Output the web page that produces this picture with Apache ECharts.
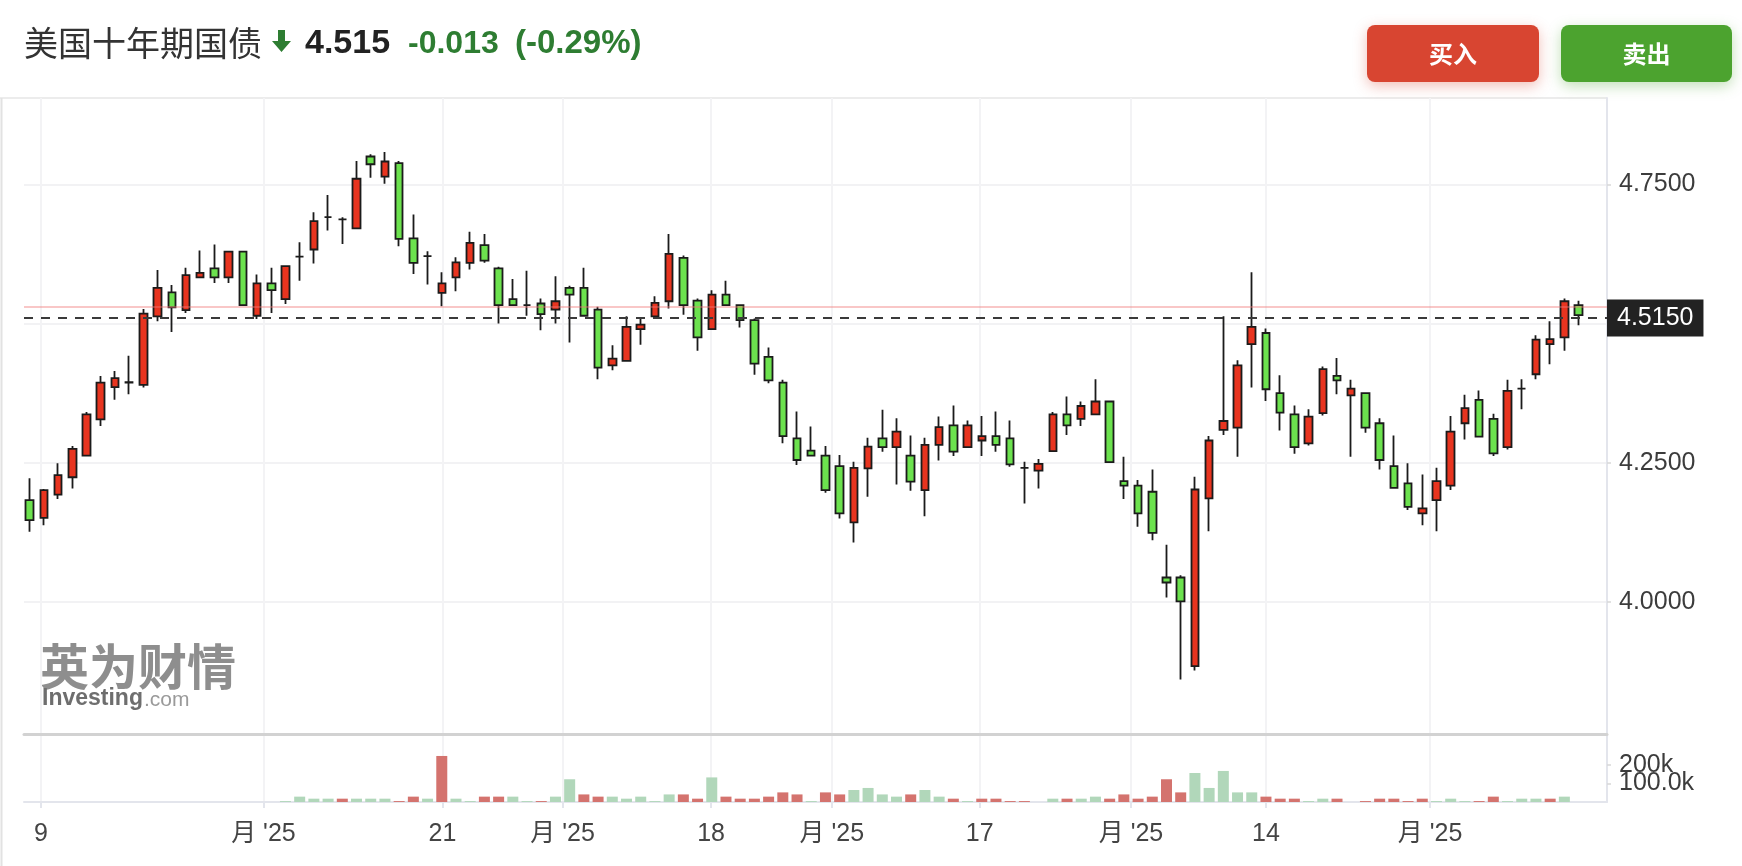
<!DOCTYPE html>
<html>
<head>
<meta charset="utf-8">
<script src="https://cdn.jsdelivr.net/npm/echarts@6/dist/echarts.min.js"></script>
<style>
html,body{margin:0;padding:0;background:#fff;}
#chart{width:1742px;height:866px;}
</style>
</head>
<body>
<div id="chart"></div>
<script>
// ---- DATA ----
const titleText = '美国十年期国债';
const lastPrice = 4.515;
const prevClose = 4.528;
const changeText = '-0.013';
const changePctText = '(-0.29%)';
const buyText = '买入';
const sellText = '卖出';

// rows: [open, close, low, high]
const ohlc = [
 [4.183,4.147,4.126,4.222],[4.151,4.201,4.138,4.203],[4.193,4.228,4.185,4.249],[4.224,4.275,4.204,4.280],
 [4.263,4.337,4.262,4.341],[4.328,4.394,4.316,4.406],[4.386,4.402,4.363,4.415],[4.395,4.394,4.373,4.442],
 [4.390,4.518,4.385,4.526],[4.513,4.564,4.504,4.596],[4.556,4.529,4.485,4.569],[4.524,4.587,4.519,4.600],
 [4.583,4.591,4.583,4.631],[4.599,4.583,4.573,4.642],[4.583,4.629,4.573,4.630],[4.629,4.533,4.532,4.630],
 [4.514,4.572,4.508,4.588],[4.572,4.560,4.519,4.600],[4.544,4.603,4.535,4.604],[4.620,4.620,4.577,4.646],
 [4.633,4.684,4.608,4.700],[4.691,4.691,4.667,4.731],[4.687,4.687,4.643,4.691],[4.671,4.760,4.671,4.792],
 [4.800,4.786,4.762,4.804],[4.764,4.791,4.751,4.808],[4.788,4.652,4.639,4.792],[4.653,4.609,4.589,4.696],
 [4.621,4.621,4.570,4.630],[4.555,4.572,4.531,4.592],[4.583,4.610,4.558,4.619],[4.609,4.645,4.597,4.665],
 [4.641,4.613,4.609,4.661],[4.599,4.533,4.500,4.602],[4.544,4.533,4.532,4.580],[4.533,4.533,4.514,4.595],
 [4.536,4.517,4.488,4.545],[4.525,4.540,4.500,4.585],[4.564,4.552,4.466,4.568],[4.564,4.514,4.513,4.600],
 [4.525,4.421,4.400,4.530],[4.425,4.437,4.416,4.461],[4.433,4.494,4.432,4.513],[4.490,4.498,4.462,4.510],
 [4.513,4.537,4.509,4.549],[4.540,4.625,4.527,4.661],[4.618,4.533,4.516,4.622],[4.541,4.475,4.451,4.545],
 [4.490,4.552,4.489,4.560],[4.552,4.533,4.532,4.577],[4.533,4.506,4.493,4.534],[4.506,4.428,4.408,4.509],
 [4.440,4.398,4.393,4.457],[4.394,4.298,4.285,4.399],[4.294,4.255,4.246,4.342],[4.272,4.263,4.262,4.315],
 [4.263,4.201,4.196,4.280],[4.244,4.159,4.150,4.264],[4.143,4.241,4.107,4.252],[4.240,4.279,4.189,4.295],
 [4.294,4.278,4.270,4.345],[4.278,4.306,4.211,4.330],[4.263,4.216,4.200,4.299],[4.201,4.282,4.154,4.295],
 [4.282,4.314,4.254,4.333],[4.317,4.270,4.262,4.353],[4.278,4.317,4.277,4.326],[4.290,4.298,4.262,4.334],
 [4.298,4.282,4.270,4.342],[4.294,4.247,4.243,4.326],[4.241,4.241,4.177,4.252],[4.236,4.248,4.204,4.257],
 [4.271,4.337,4.270,4.341],[4.337,4.317,4.300,4.369],[4.329,4.352,4.316,4.360],[4.337,4.360,4.336,4.400],
 [4.360,4.251,4.250,4.361],[4.217,4.209,4.185,4.261],[4.209,4.159,4.135,4.219],[4.198,4.124,4.111,4.238],
 [4.044,4.035,4.008,4.103],[4.044,4.001,3.861,4.048],[3.885,4.202,3.877,4.225],[4.186,4.290,4.127,4.298],
 [4.309,4.325,4.300,4.513],[4.313,4.425,4.261,4.434],[4.463,4.494,4.385,4.592],[4.483,4.382,4.361,4.491],
 [4.375,4.340,4.308,4.407],[4.337,4.278,4.266,4.353],[4.285,4.333,4.281,4.346],[4.339,4.418,4.335,4.423],
 [4.406,4.398,4.373,4.438],[4.371,4.383,4.261,4.399],[4.375,4.313,4.304,4.376],[4.321,4.255,4.238,4.330],
 [4.244,4.205,4.204,4.299],[4.213,4.171,4.165,4.249],[4.159,4.168,4.138,4.229],[4.183,4.217,4.127,4.241],
 [4.209,4.306,4.201,4.334],[4.321,4.348,4.292,4.372],[4.363,4.297,4.296,4.380],[4.329,4.267,4.262,4.338],
 [4.278,4.379,4.274,4.399],[4.383,4.383,4.346,4.400],[4.409,4.471,4.400,4.479],[4.463,4.472,4.427,4.504],
 [4.475,4.540,4.451,4.545],[4.533,4.515,4.497,4.541]
];

// volume in thousands, one per candle
const volumeK = [
 0,0,0,0,0,0,0,0,0,0,0,0,0,0,0,0,0,0,
 5,29,18,18,18,18,18,18,5,29,18,249,18,5,29,29,29,5,5,29,123,41,29,29,18,29,5,41,41,18,133,
 29,18,18,29,52,41,5,52,41,65,76,41,29,41,65,29,18,5,18,18,5,5,0,18,18,18,29,18,41,18,29,
 123,52,157,76,168,52,52,29,18,18,5,18,18,0,5,18,18,5,18,5,18,5,5,29,5,18,18,18,29,0
];
// 1 = red bar, 0 = green bar
const volumeRed = [
 0,0,0,0,0,0,0,0,0,0,0,0,0,0,0,0,0,0,
 0,0,0,0,1,0,0,0,1,1,0,1,0,0,1,1,0,0,1,0,0,1,1,0,0,0,0,0,1,1,0,
 1,1,1,1,1,1,0,1,1,0,0,0,0,1,0,0,1,0,1,1,1,1,0,0,1,0,0,1,1,1,1,
 1,1,0,0,0,0,0,1,1,1,0,0,1,0,1,1,1,1,1,0,0,0,1,1,0,0,0,1,0,0
];

const xTickPos = [0.8, 16.45, 29.05, 37.5, 47.95, 56.45, 66.85, 77.5, 87.0, 98.55];
const xTickLabels = ['9', "月 '25", '21', "月 '25", '18', "月 '25", '17', "月 '25", '14', "月 '25"];
const yTickVals = [4.0, 4.25, 4.5, 4.75];
const yLabelVals = [4.0, 4.25, 4.75];
const volTickVals = [100000, 200000];
const volTickLabels = ['100.0k', '200k'];

// ---- BUILD ----
const candleData = ohlc.map((r, i) => [i, r[0], r[1], r[2], r[3]]);
const volData = volumeK.map((v, i) => ({
  value: [i, v * 1000],
  itemStyle: { color: volumeRed[i] ? '#d4736e' : '#b1d7ba' }
}));

const X_MIN = -0.4, X_MAX = 111.0;
const FONT = '"Liberation Sans", Arial, "Noto Sans CJK SC", sans-serif';
const CJK = '"Noto Sans CJK SC", "Liberation Sans", sans-serif';

function nearestLabel(v) {
  let best = 0, bd = 1e9;
  xTickPos.forEach((p, k) => { const d = Math.abs(p - v); if (d < bd) { bd = d; best = k; } });
  return xTickLabels[best];
}

const chart = echarts.init(document.getElementById('chart'), null, { renderer: 'canvas' });

const option = {
  animation: false,
  backgroundColor: '#ffffff',
  grid: [
    { left: 24, right: 135, top: 98, height: 636 },
    { left: 24, right: 135, top: 736, height: 66 }
  ],
  xAxis: [
    {
      type: 'value', gridIndex: 0, min: X_MIN, max: X_MAX,
      axisLine: { show: true, onZero: false, lineStyle: { color: '#d2d2d2', width: 3 } },
      axisTick: { show: false, customValues: xTickPos },
      axisLabel: { show: false, customValues: xTickPos },
      splitLine: { show: true, lineStyle: { color: '#f3f3f5', width: 2 } }
    },
    {
      type: 'value', gridIndex: 1, min: X_MIN, max: X_MAX,
      axisLine: { show: true, onZero: false, lineStyle: { color: '#e3e5ec', width: 2 } },
      axisTick: { show: true, length: 6, customValues: xTickPos, lineStyle: { color: '#e3e5ec', width: 2 } },
      axisLabel: {
        show: true, customValues: xTickPos, margin: 20, hideOverlap: false,
        formatter: v => nearestLabel(v),
        fontSize: 25, color: '#444', fontFamily: FONT
      },
      splitLine: { show: true, lineStyle: { color: '#f3f3f5', width: 2 } }
    }
  ],
  yAxis: [
    {
      type: 'value', gridIndex: 0, position: 'right', min: 3.763, max: 4.905,
      axisLine: { show: true, onZero: false, lineStyle: { color: '#e3e5ec', width: 2 } },
      axisTick: { show: true, length: 4, customValues: yTickVals, lineStyle: { color: '#d8d8d8', width: 1.5 } },
      axisLabel: {
        show: true, customValues: yLabelVals, margin: 12, hideOverlap: false,
        formatter: v => Number(v).toFixed(4),
        fontSize: 25, color: '#3c3c3c', fontFamily: FONT
      },
      splitLine: { show: true, lineStyle: { color: '#f2f2f4', width: 2 } }
    },
    {
      type: 'value', gridIndex: 1, position: 'right', min: 0, max: 357000,
      axisLine: { show: true, onZero: false, lineStyle: { color: '#e3e5ec', width: 2 } },
      axisTick: { show: true, length: 4, customValues: volTickVals, lineStyle: { color: '#d8d8d8', width: 1.5 } },
      axisLabel: { show: false },
      splitLine: { show: false }
    }
  ],
  series: [
    {
      type: 'candlestick', xAxisIndex: 0, yAxisIndex: 0,
      data: candleData,
      encode: { x: 0, y: [1, 2, 3, 4] },
      barWidth: 8,
      itemStyle: {
        color: '#e8341f', color0: '#6ce24e',
        borderColor: '#1b1b1b', borderColor0: '#1b1b1b', borderColorDoji: '#1b1b1b',
        borderWidth: 1.8
      },
      markLine: {
        silent: true, symbol: ['none', 'none'],
        data: [
          {
            yAxis: prevClose,
            lineStyle: { color: 'rgba(240,120,120,0.55)', width: 1.5, type: 'solid' },
            label: { show: false }
          },
          {
            yAxis: lastPrice,
            lineStyle: { color: '#3a3a3a', width: 2, type: [9, 8] },
            label: {
              show: true, position: 'end', distance: 0,
              formatter: () => lastPrice.toFixed(4),
              color: '#ffffff', backgroundColor: '#222222',
              fontSize: 25, fontFamily: FONT,
              padding: [6, 10, 6, 10]
            }
          }
        ]
      }
    },
    {
      type: 'bar', xAxisIndex: 1, yAxisIndex: 1,
      data: volData,
      barWidth: 11
    }
  ],
  graphic: [
    // frame lines
    { type: 'line', shape: { x1: 0, y1: 98, x2: 1607, y2: 98 }, style: { stroke: '#ececec', lineWidth: 2 }, silent: true },
    { type: 'line', shape: { x1: 1.5, y1: 98, x2: 1.5, y2: 866 }, style: { stroke: '#e2e2e2', lineWidth: 2 }, silent: true },
    // header
    { type: 'text', x: 24, y: 43, style: { text: titleText, fontSize: 34, fontFamily: CJK, fill: '#333', verticalAlign: 'middle', align: 'left' } },
    { type: 'polygon', shape: { points: [[278, 30], [285, 30], [285, 41], [291, 41], [281.5, 52], [272, 41], [278, 41]] }, style: { fill: '#2e7d32' } },
    { type: 'text', x: 305, y: 44, style: { text: lastPrice.toFixed(3), fontSize: 34, fontWeight: 'bold', fontFamily: FONT, fill: '#222', verticalAlign: 'middle', align: 'left' } },
    { type: 'text', x: 408, y: 44, style: { text: changeText, fontSize: 32, fontWeight: 'bold', fontFamily: FONT, fill: '#2e7d32', verticalAlign: 'middle', align: 'left' } },
    { type: 'text', x: 515, y: 44, style: { text: changePctText, fontSize: 33, fontWeight: 'bold', fontFamily: FONT, fill: '#2e7d32', verticalAlign: 'middle', align: 'left' } },
    // buttons
    { type: 'rect', shape: { x: 1367, y: 25, width: 172, height: 57, r: 8 },
      style: { fill: '#d84531', shadowBlur: 14, shadowColor: 'rgba(216,69,49,0.35)', shadowOffsetY: 4 } },
    { type: 'text', x: 1453, y: 54, style: { text: buyText, fontSize: 24, fontWeight: 'bold', fontFamily: CJK, fill: '#fff', align: 'center', verticalAlign: 'middle' } },
    { type: 'rect', shape: { x: 1561, y: 25, width: 171, height: 57, r: 8 },
      style: { fill: '#4ca32f', shadowBlur: 14, shadowColor: 'rgba(76,163,47,0.35)', shadowOffsetY: 4 } },
    { type: 'text', x: 1646.5, y: 54, style: { text: sellText, fontSize: 24, fontWeight: 'bold', fontFamily: CJK, fill: '#fff', align: 'center', verticalAlign: 'middle' } },
    // watermark
    { type: 'text', x: 40, y: 666, style: { text: '英为财情', fontSize: 49, fontWeight: 'bold', fontFamily: CJK, fill: '#8e8e8e', verticalAlign: 'middle', align: 'left' } },
    { type: 'text', x: 42, y: 699, style: { text: 'Investing', fontSize: 23, fontWeight: 'bold', fontFamily: FONT, fill: '#6e6e6e', verticalAlign: 'middle', align: 'left' } },
    { type: 'text', x: 144, y: 700, style: { text: '.com', fontSize: 21, fontFamily: FONT, fill: '#9a9a9a', verticalAlign: 'middle', align: 'left' } }
  ]
};

chart.setOption(option);

// volume axis labels placed through the axis scale (they overlap in the original, so draw them directly)
const axisX = chart.convertToPixel({ xAxisIndex: 1 }, X_MAX);
volTickVals.forEach((v, k) => {
  const py = chart.convertToPixel({ yAxisIndex: 1 }, v);
  option.graphic.push({
    type: 'text', x: axisX + 12, y: py,
    style: { text: volTickLabels[k], fontSize: 25, fontFamily: FONT, fill: '#3c3c3c', verticalAlign: 'middle', align: 'left' }
  });
});
chart.setOption(option, true);
</script>
</body>
</html>
